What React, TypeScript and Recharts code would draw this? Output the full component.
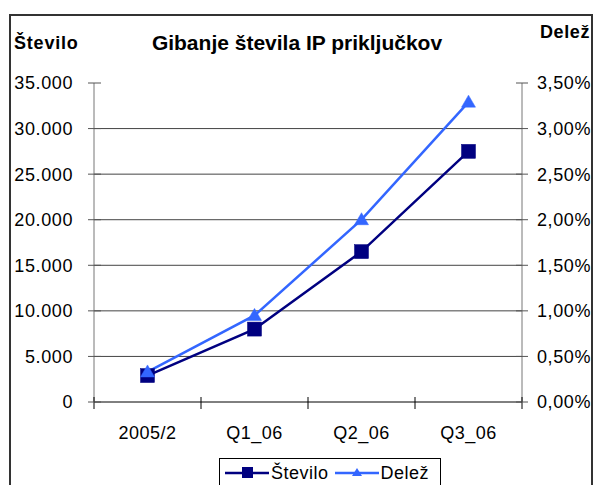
import React from "react";
import { LineChart, Line, XAxis, YAxis, ReferenceLine, Legend } from "recharts";

const categories = ["2005/2", "Q1_06", "Q2_06", "Q3_06"];
const steviloValues = [2900, 8000, 16500, 27500];
const delezValues = [0.33, 0.95, 2.0, 3.29];
const leftTicks = [0, 5000, 10000, 15000, 20000, 25000, 30000, 35000];
const rightTicks = [0, 0.5, 1, 1.5, 2, 2.5, 3, 3.5];
const gridValues = [5000, 10000, 15000, 20000, 25000, 30000];

const data = categories.map((c, i) => ({ cat: c, stevilo: steviloValues[i], delez: delezValues[i] }));

const FONT = "'Liberation Sans', Arial, sans-serif";
const NAVY = "#000080";
const BLUE = "#3366FF";

const fmtThousands = (v: number) => (v === 0 ? "0" : v.toLocaleString("de-DE"));
const fmtPct = (v: number) => v.toFixed(2).replace(".", ",") + "%";

const LeftTick = (props: any) => {
  const { x, y, payload } = props;
  const ax = x + 21;
  return (
    <g>
      <line x1={ax - 6} x2={ax + 7} y1={y} y2={y} stroke="#555" strokeWidth={1} />
      <text x={x} y={y} dy="0.36em" textAnchor="end" fontFamily={FONT} fontSize={18} letterSpacing={0.6} fill="#000">
        {fmtThousands(payload.value)}
      </text>
    </g>
  );
};

const RightTick = (props: any) => {
  const { x, y, payload } = props;
  const ax = x - 15;
  return (
    <g>
      <line x1={ax - 6} x2={ax + 6} y1={y} y2={y} stroke="#555" strokeWidth={1} />
      <text x={x} y={y} dy="0.36em" textAnchor="start" fontFamily={FONT} fontSize={18} letterSpacing={0.6} fill="#000">
        {fmtPct(payload.value)}
      </text>
    </g>
  );
};

const BottomTick = (props: any) => {
  const { x, y, payload, index, width, visibleTicksCount } = props;
  const n = visibleTicksCount || categories.length;
  const half = (width || 428) / n / 2;
  return (
    <g>
      <line x1={x - half} x2={x - half} y1={y - 5} y2={y + 7} stroke="#000" strokeWidth={1} />
      {index === n - 1 && (
        <line x1={x + half} x2={x + half} y1={y - 5} y2={y + 7} stroke="#000" strokeWidth={1} />
      )}
      <text x={x} y={y + 37} textAnchor="middle" fontFamily={FONT} fontSize={18} letterSpacing={0.5} fill="#000">
        {payload.value}
      </text>
    </g>
  );
};

const SquareDot = (props: any) => {
  const { cx, cy } = props;
  if (cx == null || cy == null) return null;
  return <rect x={cx - 7} y={cy - 7} width={14} height={14} fill={NAVY} stroke={NAVY} strokeWidth={0.5} />;
};

const TriangleDot = (props: any) => {
  const { cx, cy } = props;
  if (cx == null || cy == null) return null;
  return (
    <polygon
      points={`${cx},${cy - 7} ${cx + 7},${cy + 5} ${cx - 7},${cy + 5}`}
      fill={BLUE}
      stroke={BLUE}
      strokeWidth={0.5}
    />
  );
};

const LegendContent = () => (
  <div
    style={{
      border: "1px solid #000",
      background: "#fff",
      height: 40,
      boxSizing: "border-box",
      display: "flex",
      alignItems: "flex-start",
      paddingTop: 4,
      paddingLeft: 5,
      fontFamily: FONT,
      fontSize: 18,
      letterSpacing: 0.5,
      color: "#000",
    }}
  >
    <svg width={44} height={20} style={{ display: "block" }}>
      <line x1={0} x2={44} y1={10} y2={10} stroke={NAVY} strokeWidth={2.5} />
      <rect x={17} y={4} width={11} height={11} fill={NAVY} />
    </svg>
    <span style={{ marginLeft: 2, lineHeight: "20px" }}>Število</span>
    <svg width={44} height={20} style={{ display: "block", marginLeft: 6 }}>
      <line x1={0} x2={44} y1={10} y2={10} stroke={BLUE} strokeWidth={2.5} />
      <polygon points="22,5 27,13 17,13" fill={BLUE} />
    </svg>
    <span style={{ marginLeft: 2, lineHeight: "20px" }}>Delež</span>
  </div>
);

export default function App() {
  return (
    <div style={{ position: "absolute", left: 0, top: 0, width: 596, height: 485, overflow: "hidden", background: "#fff" }}>
      <svg width={596} height={485} style={{ position: "absolute", left: 0, top: 0 }}>
        <rect x={10} y={15} width={582} height={490} fill="#fff" stroke="#333" strokeWidth={2} />
      </svg>
      <div style={{ position: "absolute", left: 0, top: 0 }}>
        <LineChart width={596} height={485} data={data} margin={{ top: 83, right: 10, bottom: 53, left: 10 }}>
          <XAxis
            dataKey="cat"
            scale="band"
            xAxisId="x"
            height={30}
            tickSize={0}
            tickMargin={0}
            tickLine={false}
            axisLine={{ stroke: "#000", strokeWidth: 1 }}
            tick={<BottomTick />}
            interval={0}
          />
          <YAxis
            yAxisId="left"
            orientation="left"
            width={84}
            domain={[0, 35000]}
            ticks={leftTicks}
            tickSize={0}
            tickMargin={21}
            tickLine={false}
            axisLine={{ stroke: "#777", strokeWidth: 1 }}
            tick={<LeftTick />}
            interval={0}
          />
          <YAxis
            yAxisId="right"
            orientation="right"
            width={64}
            domain={[0, 3.5]}
            ticks={rightTicks}
            tickSize={0}
            tickMargin={15}
            tickLine={false}
            axisLine={{ stroke: "#777", strokeWidth: 1 }}
            tick={<RightTick />}
            interval={0}
          />
          {gridValues.map((v) => (
            <ReferenceLine key={v} y={v} yAxisId="left" xAxisId="x" stroke="#444" strokeWidth={1} />
          ))}
          <Line
            type="linear"
            dataKey="stevilo"
            name="Število"
            xAxisId="x"
            yAxisId="left"
            stroke={NAVY}
            strokeWidth={2.5}
            dot={<SquareDot />}
            activeDot={false}
            isAnimationActive={false}
          />
          <Line
            type="linear"
            dataKey="delez"
            name="Delež"
            xAxisId="x"
            yAxisId="right"
            stroke={BLUE}
            strokeWidth={2.5}
            dot={<TriangleDot />}
            activeDot={false}
            isAnimationActive={false}
          />
          <Legend
            layout="horizontal"
            verticalAlign="middle"
            align="center"
            content={<LegendContent />}
            wrapperStyle={{ position: "absolute", left: 219, top: 458, width: 222, height: 40 }}
          />
        </LineChart>
      </div>
      <svg width={596} height={485} style={{ position: "absolute", left: 0, top: 0, pointerEvents: "none" }}>
        <text x={297} y={50} textAnchor="middle" fontFamily={FONT} fontSize={21} fontWeight="bold" fill="#000">
          Gibanje števila IP priključkov
        </text>
        <text x={14} y={49} textAnchor="start" fontFamily={FONT} fontSize={18} fontWeight="bold" letterSpacing={0.8} fill="#000">
          Število
        </text>
        <text x={590} y={38} textAnchor="end" fontFamily={FONT} fontSize={18} fontWeight="bold" letterSpacing={0.6} fill="#000">
          Delež
        </text>
      </svg>
    </div>
  );
}
